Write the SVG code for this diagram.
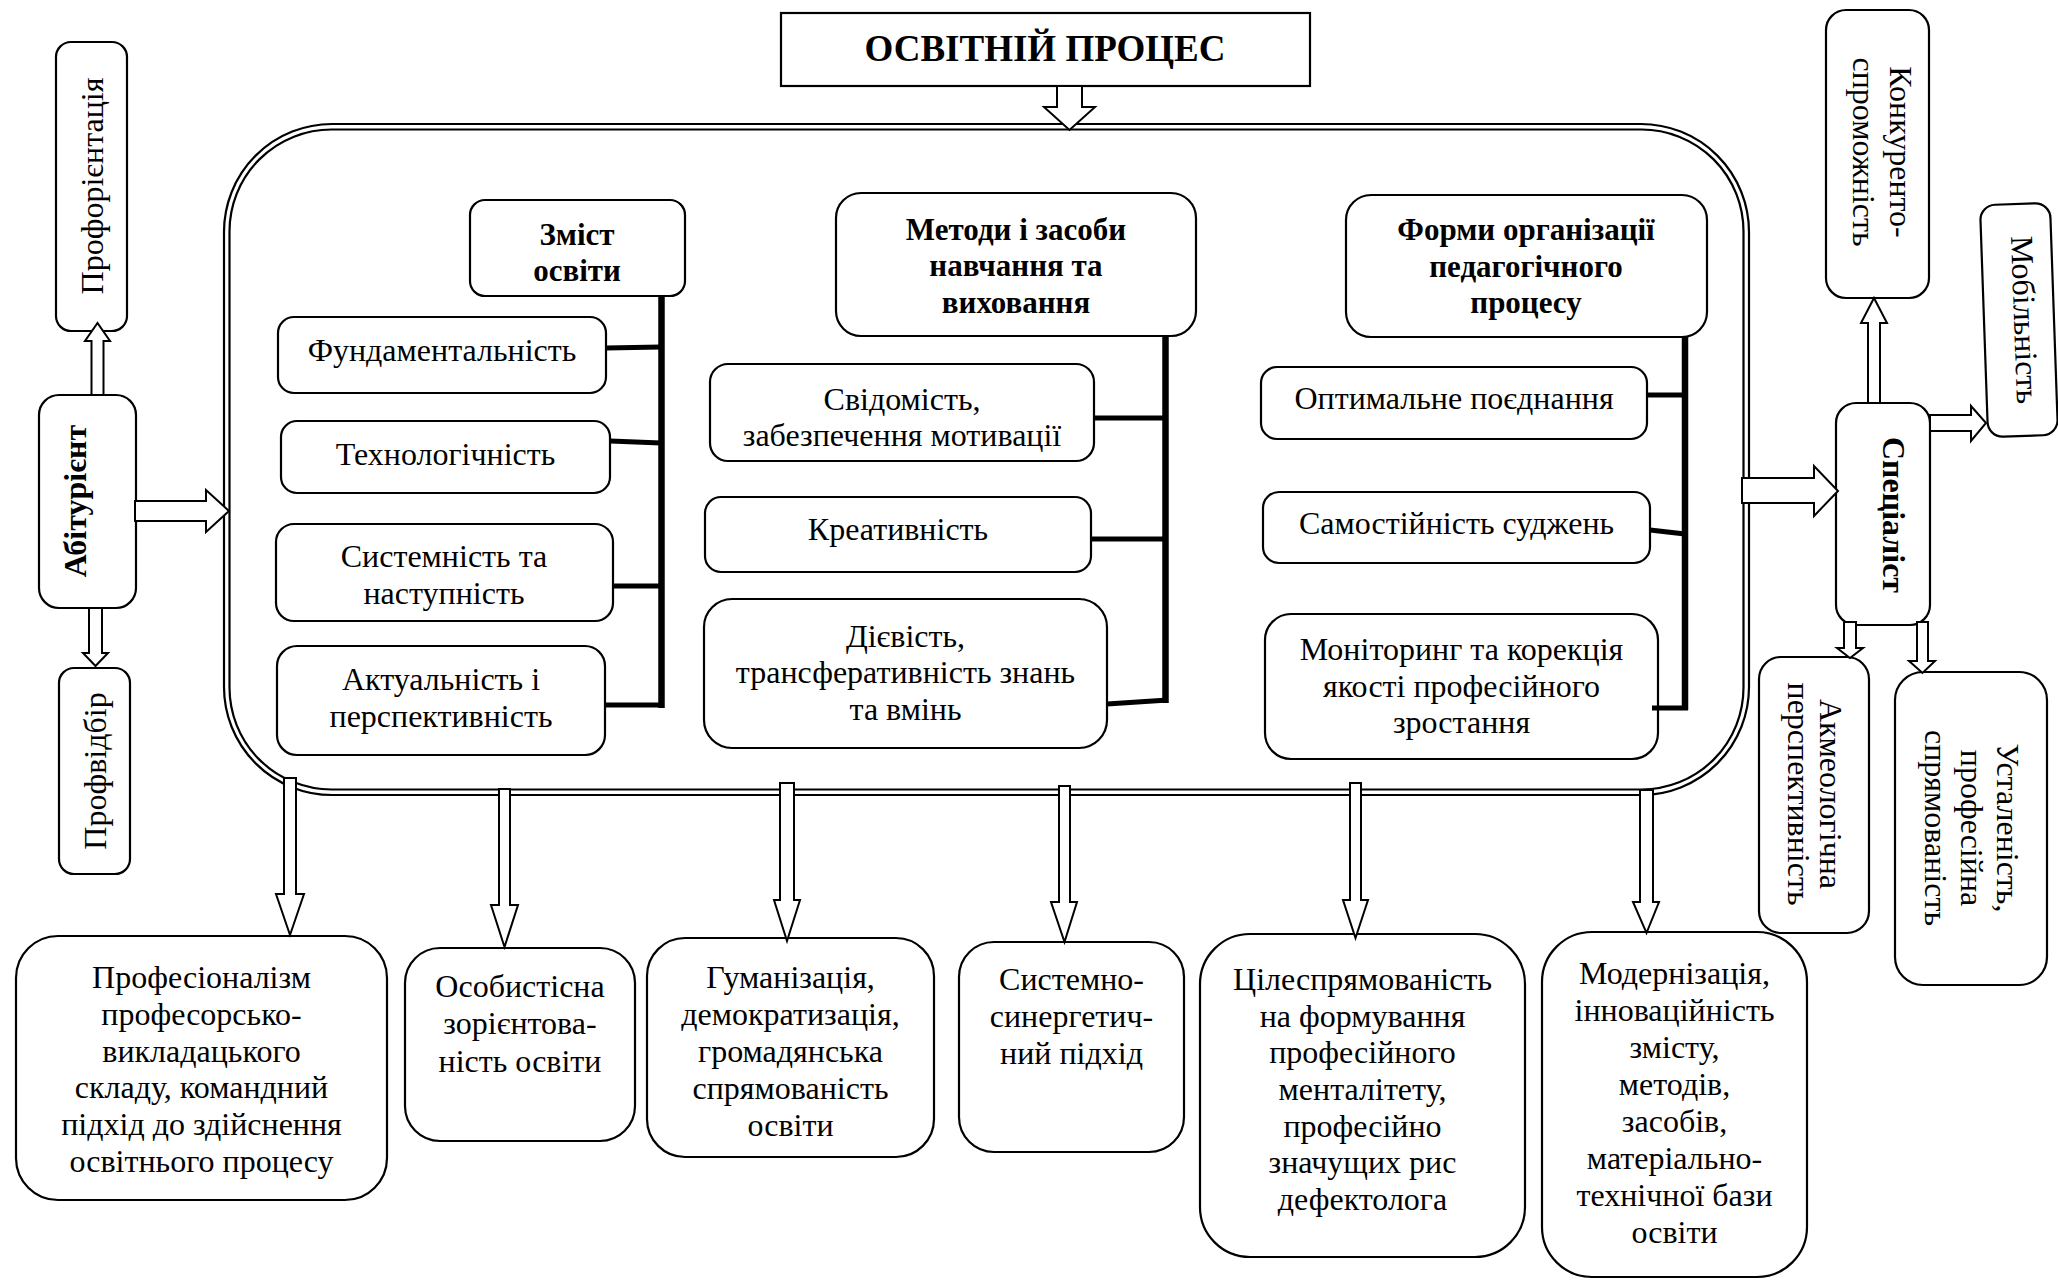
<svg xmlns="http://www.w3.org/2000/svg" width="2058" height="1280" viewBox="0 0 2058 1280">
<style>
.bx{fill:#fff;stroke:#000;stroke-width:2.2}
.t{font-family:"Liberation Serif","Times New Roman",serif;font-size:32px;text-anchor:middle;fill:#000}
.b{font-weight:bold;font-size:31px}
.ar{fill:#fff;stroke:#000;stroke-width:2;stroke-linejoin:miter}
.bar{stroke:#000;stroke-width:6.5;fill:none}
.stub{stroke:#000;stroke-width:5;fill:none}
.cont{fill:none;stroke:#000;stroke-width:2.2}
</style>
<rect width="2058" height="1280" fill="#fff"/>
<g id="container"><rect class="cont" x="224" y="124" width="1525" height="671" rx="108"/><rect class="cont" x="229.5" y="129.5" width="1514" height="660" rx="102"/></g>
<g id="title"><rect class="bx" x="781" y="13" width="529" height="73"/><text class="t b" x="1045" y="61" style="font-size:37px">ОСВІТНІЙ ПРОЦЕС</text></g>
<g id="zmist"><rect class="bx" x="470" y="200" width="215" height="96" rx="15"/><text class="t b"><tspan x="577" y="245">Зміст</tspan><tspan x="577" y="281">освіти</tspan></text></g>
<g id="fund"><rect class="bx" x="278" y="317" width="328" height="76" rx="16"/><text class="t" x="442" y="361">Фундаментальність</text></g>
<g id="tech"><rect class="bx" x="281" y="421" width="329" height="72" rx="16"/><text class="t" x="445.5" y="465">Технологічність</text></g>
<g id="syst"><rect class="bx" x="276" y="524" width="337" height="97" rx="18"/><text class="t"><tspan x="444" y="567">Системність та</tspan><tspan x="444" y="604">наступність</tspan></text></g>
<g id="aktual"><rect class="bx" x="277" y="646" width="328" height="109" rx="20"/><text class="t"><tspan x="441" y="690">Актуальність і</tspan><tspan x="441" y="727">перспективність</tspan></text></g>
<g id="metody"><rect class="bx" x="836" y="193" width="360" height="143" rx="25"/><text class="t b"><tspan x="1016" y="240">Методи і засоби</tspan><tspan x="1016" y="276">навчання та</tspan><tspan x="1016" y="313">виховання</tspan></text></g>
<g id="svid"><rect class="bx" x="710" y="364" width="384" height="97" rx="18"/><text class="t"><tspan x="902" y="410">Свідомість,</tspan><tspan x="902" y="446">забезпечення мотивації</tspan></text></g>
<g id="kreat"><rect class="bx" x="705" y="497" width="386" height="75" rx="16"/><text class="t" x="898" y="540">Креативність</text></g>
<g id="diev"><rect class="bx" x="704" y="599" width="403" height="149" rx="28"/><text class="t"><tspan x="905.5" y="647">Дієвість,</tspan><tspan x="905.5" y="683">трансферативність знань</tspan><tspan x="905.5" y="720">та вмінь</tspan></text></g>
<g id="formy"><rect class="bx" x="1346" y="195" width="361" height="142" rx="25"/><text class="t b"><tspan x="1526" y="240">Форми організації</tspan><tspan x="1526" y="277">педагогічного</tspan><tspan x="1526" y="313">процесу</tspan></text></g>
<g id="optym"><rect class="bx" x="1261" y="367" width="386" height="72" rx="16"/><text class="t" x="1454" y="409">Оптимальне поєднання</text></g>
<g id="samost"><rect class="bx" x="1263" y="492" width="387" height="71" rx="16"/><text class="t" x="1456.5" y="534">Самостійність суджень</text></g>
<g id="monit"><rect class="bx" x="1265" y="614" width="393" height="145" rx="26"/><text class="t"><tspan x="1461.5" y="660">Моніторинг та корекція</tspan><tspan x="1461.5" y="697">якості професійного</tspan><tspan x="1461.5" y="733">зростання</tspan></text></g>
<g id="proforient"><rect class="bx" x="56" y="42" width="71" height="289" rx="15"/><text class="t" transform="translate(91.5 186) rotate(-90)" x="0" y="11">Профорієнтація</text></g>
<g id="abiturient"><rect class="bx" x="39" y="395" width="97" height="213" rx="20"/><text class="t b" transform="translate(75 501) rotate(-90)" x="0" y="11" style="font-size:32px">Абітурієнт</text></g>
<g id="profvidbir"><rect class="bx" x="59" y="668" width="71" height="206" rx="15"/><text class="t" transform="translate(94.5 771) rotate(-90)" x="0" y="11">Профвідбір</text></g>
<g id="konkur"><rect class="bx" x="1826" y="10" width="103" height="288" rx="20"/><text class="t" transform="translate(1877 152) rotate(90)"><tspan x="0" y="-13">Конкуренто-</tspan><tspan x="0" y="24">спроможність</tspan></text></g>
<g id="mobil" transform="rotate(-2 2019 320)"><rect class="bx" x="1984" y="204" width="70" height="232" rx="15"/><text class="t" transform="translate(2024 320) rotate(90)" x="0" y="10">Мобільність</text></g>
<g id="spec"><rect class="bx" x="1836" y="403" width="94" height="222" rx="20"/><text class="t b" transform="translate(1893 515) rotate(90)" x="0" y="10" style="font-size:32px">Спеціаліст</text></g>
<g id="akmeo"><rect class="bx" x="1759" y="657" width="110" height="276" rx="22"/><text class="t" transform="translate(1814 794) rotate(90)"><tspan x="0" y="-6">Акмеологічна</tspan><tspan x="0" y="26">перспективність</tspan></text></g>
<g id="ustal"><rect class="bx" x="1895" y="672" width="152" height="313" rx="28"/><text class="t" transform="translate(1971 828) rotate(90)"><tspan x="0" y="-26">Усталеність,</tspan><tspan x="0" y="10">професійна</tspan><tspan x="0" y="46">спрямованість</tspan></text></g>
<g id="profesionalizm"><rect class="bx" x="16" y="936" width="371" height="264" rx="42"/><text class="t"><tspan x="201.5" y="988">Професіоналізм</tspan><tspan x="201.5" y="1025">професорсько-</tspan><tspan x="201.5" y="1062">викладацького</tspan><tspan x="201.5" y="1098">складу, командний</tspan><tspan x="201.5" y="1135">підхід до здійснення</tspan><tspan x="201.5" y="1172">освітнього процесу</tspan></text></g>
<g id="osobyst"><rect class="bx" x="405" y="948" width="230" height="193" rx="35"/><text class="t"><tspan x="520" y="997">Особистісна</tspan><tspan x="520" y="1034">зорієнтова-</tspan><tspan x="520" y="1072">ність освіти</tspan></text></g>
<g id="human"><rect class="bx" x="647" y="938" width="287" height="219" rx="38"/><text class="t"><tspan x="790.5" y="988">Гуманізація,</tspan><tspan x="790.5" y="1025">демократизація,</tspan><tspan x="790.5" y="1062">громадянська</tspan><tspan x="790.5" y="1099">спрямованість</tspan><tspan x="790.5" y="1136">освіти</tspan></text></g>
<g id="synerg"><rect class="bx" x="959" y="942" width="225" height="210" rx="35"/><text class="t"><tspan x="1071.5" y="990">Системно-</tspan><tspan x="1071.5" y="1027">синергетич-</tspan><tspan x="1071.5" y="1064">ний підхід</tspan></text></g>
<g id="tsil"><rect class="bx" x="1200" y="934" width="325" height="323" rx="50"/><text class="t"><tspan x="1362.5" y="990">Цілеспрямованість</tspan><tspan x="1362.5" y="1027">на формування</tspan><tspan x="1362.5" y="1063">професійного</tspan><tspan x="1362.5" y="1100">менталітету,</tspan><tspan x="1362.5" y="1137">професійно</tspan><tspan x="1362.5" y="1173">значущих рис</tspan><tspan x="1362.5" y="1210">дефектолога</tspan></text></g>
<g id="modern"><rect class="bx" x="1542" y="932" width="265" height="345" rx="50"/><text class="t"><tspan x="1674.5" y="984">Модернізація,</tspan><tspan x="1674.5" y="1021">інноваційність</tspan><tspan x="1674.5" y="1058">змісту,</tspan><tspan x="1674.5" y="1095">методів,</tspan><tspan x="1674.5" y="1132">засобів,</tspan><tspan x="1674.5" y="1169">матеріально-</tspan><tspan x="1674.5" y="1206">технічної бази</tspan><tspan x="1674.5" y="1243">освіти</tspan></text></g>
<g id="connectors">
<line class="bar" x1="661.5" y1="297" x2="661.5" y2="708"/>
<line class="stub" x1="606" y1="348" x2="661" y2="347"/>
<line class="stub" x1="610" y1="441" x2="661" y2="443"/>
<line class="stub" x1="613" y1="586" x2="661" y2="586"/>
<line class="stub" x1="605" y1="705" x2="664" y2="705"/>
<line class="bar" x1="1165.5" y1="336" x2="1165.5" y2="703"/>
<line class="stub" x1="1094" y1="418" x2="1165" y2="418"/>
<line class="stub" x1="1091" y1="539" x2="1165" y2="539"/>
<line class="stub" x1="1107" y1="704" x2="1168" y2="700"/>
<line class="bar" x1="1685" y1="337" x2="1685" y2="710"/>
<line class="stub" x1="1647" y1="395" x2="1685" y2="395"/>
<line class="stub" x1="1650" y1="530" x2="1685" y2="534"/>
<line class="stub" x1="1652" y1="708" x2="1688" y2="708"/>
<path class="ar" d="M1057 86 H1082 V107 H1095 L1069.5 130 L1044 107 H1057 Z"/>
<path class="ar" d="M91.5 395 V341 H85 L97.5 323 L110 341 H103.5 V395 Z"/>
<path class="ar" d="M89 608 H102 V653 H108 L95.5 666 L83 653 H89 Z"/>
<path class="ar" d="M135 501 H206 V490 L229 511 L206 532 V521 H135 Z"/>
<path class="ar" d="M1742 478 H1814 V466 L1838 491 L1814 516 V503 H1742 Z"/>
<path class="ar" d="M1868 403 V323 H1861 L1874 298 L1887 323 H1880 V403 Z"/>
<path class="ar" d="M1930 415 H1971 V406 L1986 423 L1971 441 V431 H1930 Z"/>
<path class="ar" d="M1844 622 H1856 V648 H1863 L1850 658 L1837 648 H1844 Z"/>
<path class="ar" d="M1917 622 H1928 V661 H1935 L1922.5 673 L1909 661 H1917 Z"/>
<path class="ar" d="M284 778 H296 V894 H304 L290 935 L276 894 H284 Z"/>
<path class="ar" d="M499 789 H510 V905 H518 L504.5 947 L491 905 H499 Z"/>
<path class="ar" d="M780 783 H794 V900 H800 L787 941 L774 900 H780 Z"/>
<path class="ar" d="M1059 786 H1070 V902 H1077 L1064.5 942 L1051 902 H1059 Z"/>
<path class="ar" d="M1350 783 H1361 V900 H1368 L1355.5 938 L1343 900 H1350 Z"/>
<path class="ar" d="M1640 790 H1653 V902 H1659 L1646.5 933 L1633 902 H1640 Z"/>
</g>
</svg>
